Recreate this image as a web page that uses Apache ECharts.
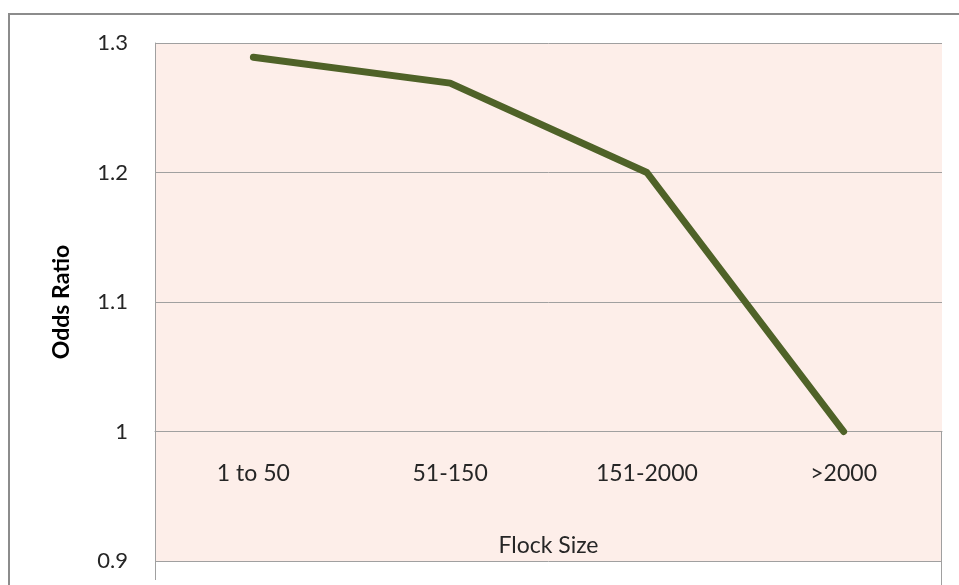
<!DOCTYPE html>
<html><head><meta charset="utf-8">
<script src="https://cdn.jsdelivr.net/npm/echarts@6/dist/echarts.min.js"></script>
<style>html,body{margin:0;padding:0;background:#fff}#c{width:959px;height:585px}</style>
</head><body><div id="c"></div>
<script>
const categories = ['1 to 50', '51-150', '151-2000', '>2000'];
const oddsRatio = [1.289, 1.269, 1.2, 1.0];
const yTicks = { min: 0.9, max: 1.3, interval: 0.1 };
const axisTitles = { x: 'Flock Size', y: 'Odds Ratio' };

const chart = echarts.init(document.getElementById('c'));
const FONT = 'Lato';
const GRAY = '#a0a0a0';
chart.setOption({
  animation: false,
  backgroundColor: '#ffffff',
  grid: { left: 155, right: 17, top: 43, bottom: 24, show: true, backgroundColor: '#FDEEE9', borderWidth: 0 },
  xAxis: {
    type: 'category', data: categories, boundaryGap: true,
    offset: -129.5,
    axisLine: { show: true, lineStyle: { color: GRAY, width: 1 } },
    axisTick: { show: false },
    axisLabel: { margin: 31, fontFamily: FONT, fontSize: 23, color: '#262626' },
    name: axisTitles.x, nameLocation: 'middle', nameGap: 103,
    nameTextStyle: { fontFamily: FONT, fontSize: 23, color: '#262626' }
  },
  yAxis: {
    type: 'value', min: yTicks.min, max: yTicks.max, interval: yTicks.interval,
    axisLine: { show: true, lineStyle: { color: GRAY, width: 1 } },
    axisTick: { show: false },
    splitLine: { show: true, lineStyle: { color: GRAY, width: 1 } },
    axisLabel: { margin: 27, fontFamily: FONT, fontSize: 22, color: '#262626',
      formatter: v => (Math.round(v * 10) / 10).toString() },
    name: axisTitles.y, nameLocation: 'middle', nameGap: 82, nameRotate: 90,
    nameTextStyle: { fontFamily: FONT, fontSize: 23, fontWeight: 'bold', color: '#000' }
  },
  graphic: [
    { type: 'rect', shape: { x: 9, y: 14, width: 1000, height: 1000 }, style: { fill: 'none', stroke: '#8c8c8c', lineWidth: 2 }, silent: true, z: -10 },
    { type: 'line', shape: { x1: 155.5, y1: 561, x2: 155.5, y2: 580 }, style: { stroke: GRAY, lineWidth: 1 } },
    { type: 'line', shape: { x1: 941.5, y1: 432, x2: 941.5, y2: 585 }, style: { stroke: GRAY, lineWidth: 1 } }
  ],
  series: [{
    type: 'line', data: oddsRatio, symbol: 'none', smooth: false,
    lineStyle: { color: '#4F6228', width: 7, cap: 'round', join: 'round' }
  }]
});
</script></body></html>
